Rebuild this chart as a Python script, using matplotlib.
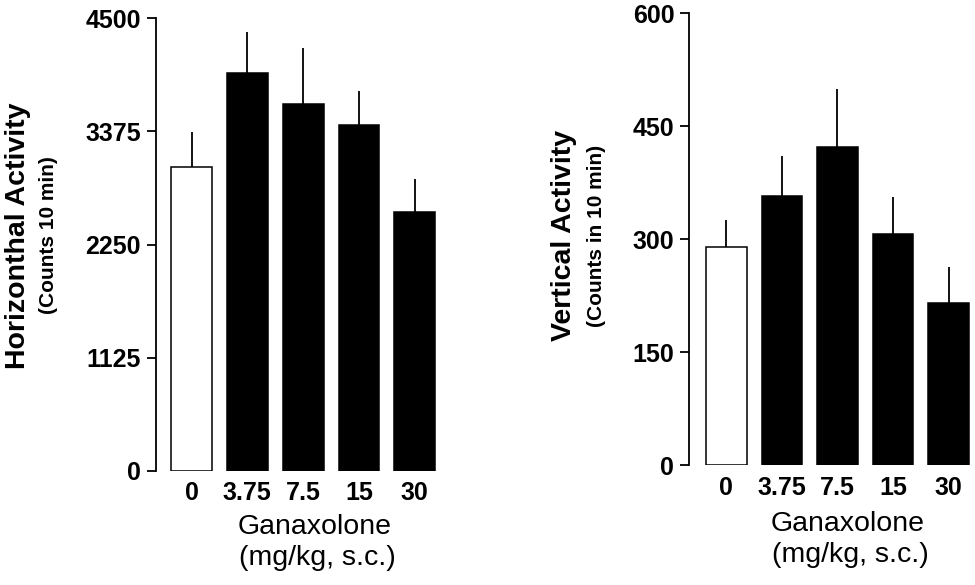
import numpy as np
import matplotlib.pyplot as plt

plt.rcParams['font.family'] = ['Liberation Sans', 'DejaVu Sans']

# doses of ganaxolone (mg/kg, s.c.)
doses = ['0', '3.75', '7.5', '15', '30']

# horizontal activity, counts in 10 min (mean and SEM)
horiz_mean = [3025, 3953, 3651, 3442, 2572]
horiz_sem = [348, 411, 557, 338, 330]
horiz_ticks = [0, 1125, 2250, 3375, 4500]

# vertical activity, counts in 10 min (mean and SEM)
vert_mean = [290, 357, 423, 307, 216]
vert_sem = [36, 54, 76, 49, 47]
vert_ticks = [0, 150, 300, 450, 600]

bar_colors = ['white', 'black', 'black', 'black', 'black']


def draw_panel(ax, means, sems, ticks, xlim):
    x = np.arange(len(doses))
    ax.bar(x, means, width=0.73, color=bar_colors, edgecolor='black',
           linewidth=1.1, zorder=2)
    ax.errorbar(x, means, yerr=[np.zeros(len(sems)), sems], fmt='none',
                ecolor='black', elinewidth=1.3, capsize=0, zorder=1)
    ax.set_xlim(*xlim)
    ax.set_ylim(ticks[0], ticks[-1])
    ax.set_yticks(ticks)
    ax.set_yticklabels([str(t) for t in ticks], fontsize=18, fontweight='bold')
    ax.set_xticks(x)
    ax.set_xticklabels(doses, fontsize=18, fontweight='bold')
    for side in ['top', 'right', 'bottom']:
        ax.spines[side].set_visible(False)
    ax.spines['left'].set_linewidth(1.3)
    ax.tick_params(axis='y', direction='out', length=6.3, width=1.3, pad=4.5)
    ax.tick_params(axis='x', length=0, pad=7.5)


fig = plt.figure(figsize=(9.75, 5.85), dpi=100)

ax1 = fig.add_axes([0.1597, 0.1949, 0.2916, 0.7739])
draw_panel(ax1, horiz_mean, horiz_sem, horiz_ticks, (-0.642, 4.453))

ax2 = fig.add_axes([0.707, 0.2043, 0.290, 0.773])
draw_panel(ax2, vert_mean, vert_sem, vert_ticks, (-0.664, 4.423))

# y axis titles
fig.text(18.5 / 975, 0.5974, 'Horizonthal Activity', rotation=90,
         ha='center', va='center', fontsize=20.5, fontweight='bold')
fig.text(49 / 975, 0.5974, '(Counts 10 min)', rotation=90,
         ha='center', va='center', fontsize=15, fontweight='bold')
fig.text(564 / 975, 0.5974, 'Vertical Activity', rotation=90,
         ha='center', va='center', fontsize=20.5, fontweight='bold')
fig.text(596 / 975, 0.5974, '(Counts in 10 min)', rotation=90,
         ha='center', va='center', fontsize=15, fontweight='bold')

# x axis titles
fig.text(315 / 975, 1 - 527 / 585, 'Ganaxolone', ha='center', va='center',
         fontsize=20.5)
fig.text(317 / 975, 1 - 558 / 585, '(mg/kg, s.c.)', ha='center', va='center',
         fontsize=20.5)
fig.text(848 / 975, 1 - 524 / 585, 'Ganaxolone', ha='center', va='center',
         fontsize=20.5)
fig.text(850 / 975, 1 - 555 / 585, '(mg/kg, s.c.)', ha='center', va='center',
         fontsize=20.5)

fig.savefig('out.png', dpi=100)
